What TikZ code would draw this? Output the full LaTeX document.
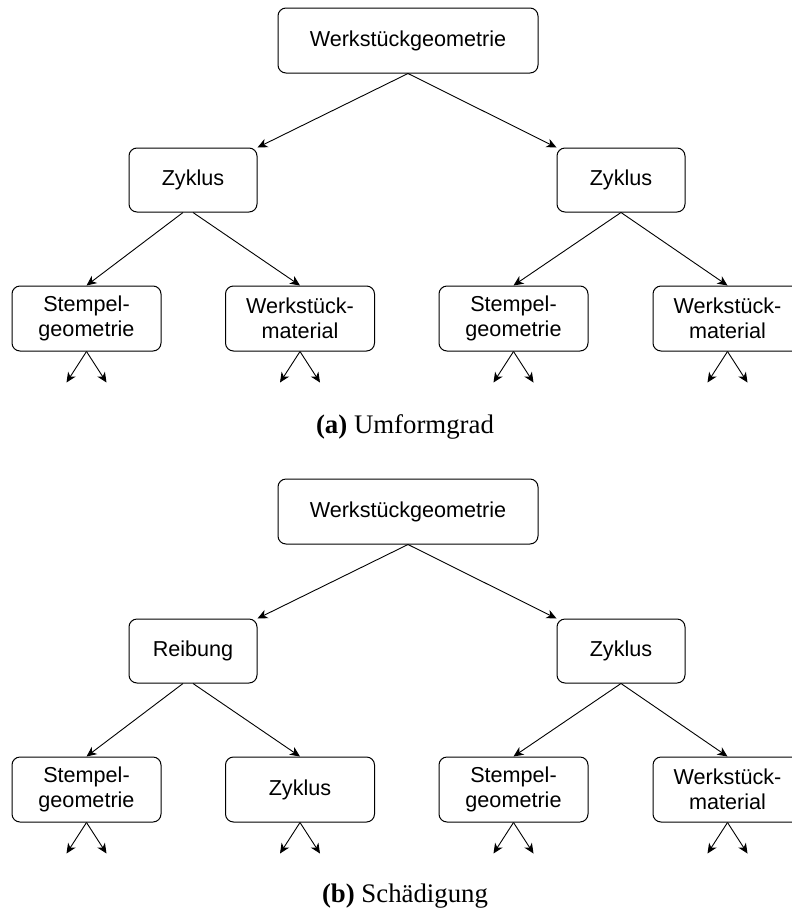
\documentclass[tikz,border=0pt]{standalone}
\usepackage{fontspec}
\setmainfont{Liberation Serif}
\newfontfamily\boxfont{Liberation Sans}
\usetikzlibrary{arrows.meta}
\tikzset{
  box/.style={draw,rounded corners=8pt,line width=1pt,inner sep=0pt,
              align=center,minimum height=65pt,
              font=\boxfont\fontsize{21.6}{24.5}\selectfont},
  rootbox/.style={box,minimum width=260pt},
  midbox/.style={box,minimum width=128pt,minimum height=64pt},
  leafbox/.style={box,minimum width=149pt},
  arr/.style={-{Stealth[length=10pt,width=9pt,inset=3pt]},line width=0.9pt},
  subcap/.style={anchor=base,font=\fontsize{26.8}{30}\selectfont},
}

\begin{document}
\begin{tikzpicture}[x=1pt,y=-1pt]
  \useasboundingbox (0,0) rectangle (792,911);
  % (a) Umformgrad
  \node[rootbox](aroot) at (408,40.5){Werkstückgeometrie};
  \node[midbox](amidl) at (193,180){Zyklus};
  \node[midbox](amidr) at (621,180){Zyklus};
  \node[leafbox](al1) at (86.5,318.5){Stempel-\\geometrie};
  \node[leafbox](al2) at (300,318.5){Werkstück-\\material};
  \node[leafbox](al3) at (513.5,318.5){Stempel-\\geometrie};
  \node[leafbox](al4) at (727.5,318.5){Werkstück-\\material};
  \node[subcap](acap) at (405,433){\textbf{(a)} Umformgrad};
  % (b) Schaedigung
  \node[rootbox](broot) at (408,511.5){Werkstückgeometrie};
  \node[midbox](bmidl) at (193,651){Reibung};
  \node[midbox](bmidr) at (621,651){Zyklus};
  \node[leafbox](bl1) at (86.5,789.5){Stempel-\\geometrie};
  \node[leafbox](bl2) at (300,789.5){Zyklus};
  \node[leafbox](bl3) at (513.5,789.5){Stempel-\\geometrie};
  \node[leafbox](bl4) at (727.5,789.5){Werkstück-\\material};
  \node[subcap](bcap) at (405,902){\textbf{(b)} Schädigung};
  % connectors
  \foreach \t in {a,b}{
    \draw[arr](\t root.south)--(\t midl.north east);
    \draw[arr](\t root.south)--(\t midr.north west);
    \draw[arr]([xshift=-10pt]\t midl.south)--(\t l1.north);
    \draw[arr](\t midl.south)--(\t l2.north);
    \draw[arr](\t midr.south)--(\t l3.north);
    \draw[arr](\t midr.south)--(\t l4.north);
  }
  \foreach \n in {al1,al2,al3,al4,bl1,bl2,bl3,bl4}{
    \path(\n.south)++(-20,31) coordinate(\n-sw);
    \path(\n.south)++(20,31) coordinate(\n-se);
    \draw[arr](\n.south)--(\n-sw);
    \draw[arr](\n.south)--(\n-se);
  }
\end{tikzpicture}
\end{document}
